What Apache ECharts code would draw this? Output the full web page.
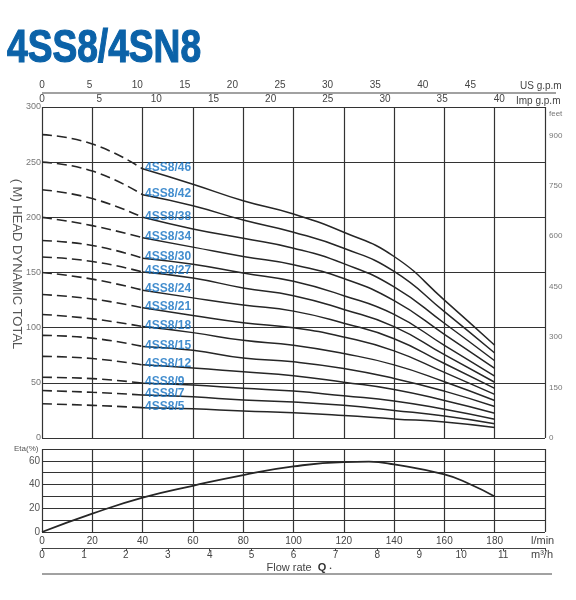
<!DOCTYPE html>
<html>
<head>
<meta charset="utf-8">
<script src="https://cdn.jsdelivr.net/npm/echarts@6/dist/echarts.min.js"></script>
<style>
html, body { margin: 0; padding: 0; background: #fff; }
#main { width: 576px; height: 600px; }
</style>
</head>
<body>
<div id="main"></div>
<script>
// flow points (l/min) the head curves were read at
const flow = [0, 20, 40, 60, 80, 100, 120, 140, 160, 180]

// head (m) per model
const head46 = [275, 266.5, 244, 230, 215, 203, 186.5, 164.5, 125, 84]
const head42 = [250, 242, 220.5, 210.5, 197.5, 186.5, 172, 151, 114.5, 77]
const head38 = [225, 217, 200, 189.5, 181, 172, 158, 137, 104, 70]
const head34 = [200, 192.5, 181.5, 173, 164.5, 157, 144.5, 124.5, 94, 63]
const head30 = [179, 174.5, 163, 157.5, 149.5, 142, 129, 112, 84, 56]
const head27 = [164, 160, 150.5, 145, 136, 129, 116.5, 101, 75.5, 50.5]
const head24 = [150, 144, 134, 127, 120.5, 115, 104, 90, 67.5, 45]
const head21 = [130, 126, 118, 111, 104.5, 100, 91.5, 79, 59.5, 39.5]
const head18 = [112, 108, 101, 95.5, 88.5, 84, 76.5, 66.3, 51, 34]
const head15 = [93, 90.5, 83, 79.5, 72.5, 69, 63, 54, 42.5, 28.5]
const head12 = [74, 72, 66.3, 63.5, 60, 56.5, 50.6, 44, 34, 22.5]
const head9 = [55, 53.8, 49.7, 48, 45, 42.5, 38.2, 33.6, 26, 17]
const head7 = [43, 41.4, 39, 37.3, 34.5, 32.7, 29.6, 25, 20, 13]
const head5 = [31, 29.6, 27.5, 26.5, 24.4, 22.9, 20.4, 17.3, 14.5, 9.5]

const models = ['4SS8/46', '4SS8/42', '4SS8/38', '4SS8/34', '4SS8/30', '4SS8/27', '4SS8/24',
    '4SS8/21', '4SS8/18', '4SS8/15', '4SS8/12', '4SS8/9', '4SS8/7', '4SS8/5']
const heads = [head46, head42, head38, head34, head30, head27, head24,
    head21, head18, head15, head12, head9, head7, head5]

// efficiency curve
const etaFlow = [0, 20, 40, 60, 80, 100, 120, 130, 140, 160, 170, 180]
const eta = [0, 15.5, 29, 39, 48, 55.3, 59, 59.3, 57, 48.5, 40.5, 30]

// axis ranges / unit conversions
const flowMax = 200
const headMax = 300
const LPM_PER_USGPM = 3.78541
const LPM_PER_IMPGPM = 4.54609
const LPM_PER_M3H = 1000 / 60
const FT_PER_M = 3.28084

const gridLine = { show: true, lineStyle: { color: '#333', width: 1.2 } }
const tickFont = { fontFamily: 'Liberation Sans', fontSize: 10, color: '#444' }
const ink = '#262626'
const blue = '#1370c2'

let series = []
heads.forEach((h, i) => {
    series.push({
        type: 'line', xAxisIndex: 0, yAxisIndex: 0,
        symbol: 'none', smooth: 0.5, silent: true,
        lineStyle: { color: ink, width: 1.6, type: [10, 5] },
        data: flow.slice(0, 3).map((q, j) => [q, h[j]]),
    })
    series.push({
        type: 'line', xAxisIndex: 0, yAxisIndex: 0,
        symbol: 'none', smooth: 0.5, silent: true,
        lineStyle: { color: ink, width: 1.5 },
        data: flow.slice(2).map((q, j) => [q, h[j + 2]]),
    })
})
// model names sit where the solid part starts
series.push({
    type: 'scatter', xAxisIndex: 0, yAxisIndex: 0, z: 10,
    symbolSize: 1, itemStyle: { color: 'rgba(0,0,0,0)' }, silent: true,
    label: {
        show: true, position: 'right', distance: 2, offset: [0, -1],
        formatter: p => p.value[2],
        color: blue, fontWeight: 'bold', fontSize: 12,
        fontFamily: '"Liberation Sans Narrow", "Liberation Sans"',
    },
    data: models.map((m, i) => [flow[2], heads[i][2], m]),
})
series.push({
    type: 'line', xAxisIndex: 3, yAxisIndex: 2,
    symbol: 'none', smooth: 0.5, silent: true,
    lineStyle: { color: ink, width: 1.8 },
    data: etaFlow.map((q, j) => [q, eta[j]]),
})

const text = (x, y, t, extra) => ({
    type: 'text', x, y, silent: true,
    style: Object.assign({ text: t, fill: '#444', fontFamily: 'Liberation Sans', fontSize: 10,
        verticalAlign: 'middle' }, extra || {}),
})

echarts.init(document.getElementById('main')).setOption({
    animation: false,
    grid: [
        { left: 42, right: 31, top: 107, height: 331, outerBoundsMode: 'none', containLabel: false },
        { left: 42, right: 31, top: 449, height: 83, outerBoundsMode: 'none', containLabel: false },
    ],
    xAxis: [
        { // l/min, head chart (grid lines only)
            type: 'value', gridIndex: 0, min: 0, max: flowMax, interval: 20,
            axisLine: { show: false }, axisTick: { show: false }, axisLabel: { show: false },
            splitLine: gridLine,
        },
        { // Imp g.p.m
            type: 'value', gridIndex: 0, position: 'top', min: 0, max: flowMax / LPM_PER_IMPGPM, interval: 5,
            axisLine: { show: false }, axisTick: { show: false }, splitLine: { show: false },
            axisLabel: Object.assign({ margin: 3, showMaxLabel: false }, tickFont),
        },
        { // US g.p.m
            type: 'value', gridIndex: 0, position: 'top', offset: 14, min: 0, max: flowMax / LPM_PER_USGPM, interval: 5,
            axisLine: { show: false }, axisTick: { show: false }, splitLine: { show: false },
            axisLabel: Object.assign({ margin: 3, showMaxLabel: false,
                formatter: v => v > 47 ? '' : v }, tickFont),
        },
        { // l/min, efficiency chart
            type: 'value', gridIndex: 1, min: 0, max: flowMax, interval: 20,
            axisLine: { show: false }, axisTick: { show: false },
            axisLabel: Object.assign({ margin: 4, formatter: v => v >= flowMax ? '' : v }, tickFont),
            splitLine: gridLine,
        },
        { // m3/h
            type: 'value', gridIndex: 1, position: 'bottom', offset: 16, min: 0, max: flowMax / LPM_PER_M3H, interval: 1,
            axisLine: { show: true, lineStyle: { color: '#444', width: 1.2 } },
            axisTick: { show: true, length: 3, lineStyle: { color: '#444' } },
            splitLine: { show: false },
            axisLabel: Object.assign({ margin: 2, formatter: v => v >= 12 ? '' : v }, tickFont),
        },
    ],
    yAxis: [
        {
            type: 'value', gridIndex: 0, min: 0, max: headMax, interval: 50,
            axisLine: { show: false }, axisTick: { show: false },
            axisLabel: { margin: 1, fontFamily: 'Liberation Sans', fontSize: 9, color: '#777' },
            splitLine: gridLine,
        },
        { // feet
            type: 'value', gridIndex: 0, position: 'right', min: 0, max: headMax * FT_PER_M, interval: 150,
            axisLine: { show: false }, axisTick: { show: false }, splitLine: { show: false },
            axisLabel: { margin: 4, showMaxLabel: false, fontFamily: 'Liberation Sans', fontSize: 8, color: '#777' },
        },
        { // Eta %
            type: 'value', gridIndex: 1, min: 0, max: 70, interval: 10,
            axisLine: { show: false }, axisTick: { show: false },
            axisLabel: { margin: 2, formatter: v => v % 20 === 0 ? v : '',
                fontFamily: 'Liberation Sans', fontSize: 10, color: '#555' },
            splitLine: gridLine,
        },
    ],
    series,
    graphic: [
        { type: 'text', x: 7, y: 49, scaleX: 0.79, silent: true,
          style: { text: '4SS8/4SN8', fill: '#0b62a8', stroke: '#0b62a8', lineWidth: 1.2,
              fontFamily: 'Liberation Sans', fontWeight: 'bold', fontSize: 47, verticalAlign: 'middle' } },
        { type: 'text', x: 17, y: 264, rotation: -Math.PI / 2, silent: true,
          style: { text: '( M) HEAD DYNAMIC TOTAL', fill: '#555', fontFamily: 'Liberation Sans',
              fontSize: 13, align: 'center', verticalAlign: 'middle' } },
        // US g.p.m scale line runs a little past the plot
        { type: 'line', silent: true, shape: { x1: 42, y1: 93, x2: 556, y2: 93 },
          style: { stroke: '#444', lineWidth: 1.2 } },
        text(520, 86, 'US g.p.m'),
        text(516, 101, 'Imp g.p.m'),
        text(549, 114, 'feet', { fontSize: 8, fill: '#777' }),
        text(14, 449, 'Eta(%)', { fontSize: 8, fill: '#555' }),
        text(531, 541, 'l/min', { fontSize: 11 }),
        text(531, 555, 'm³/h', { fontSize: 11 }),
        { type: 'text', x: 299, y: 568, silent: true,
          style: { text: 'Flow rate  {b|Q} {s|•}', fill: '#444', fontFamily: 'Liberation Sans', fontSize: 11,
              align: 'center', verticalAlign: 'middle',
              rich: { b: { fontWeight: 'bold', fontSize: 11, fill: '#333' }, s: { fontSize: 6, fill: '#444' } } } },
        { type: 'line', silent: true, shape: { x1: 42, y1: 574, x2: 552, y2: 574 },
          style: { stroke: '#444', lineWidth: 1 } },
    ],
})
</script>
</body>
</html>
